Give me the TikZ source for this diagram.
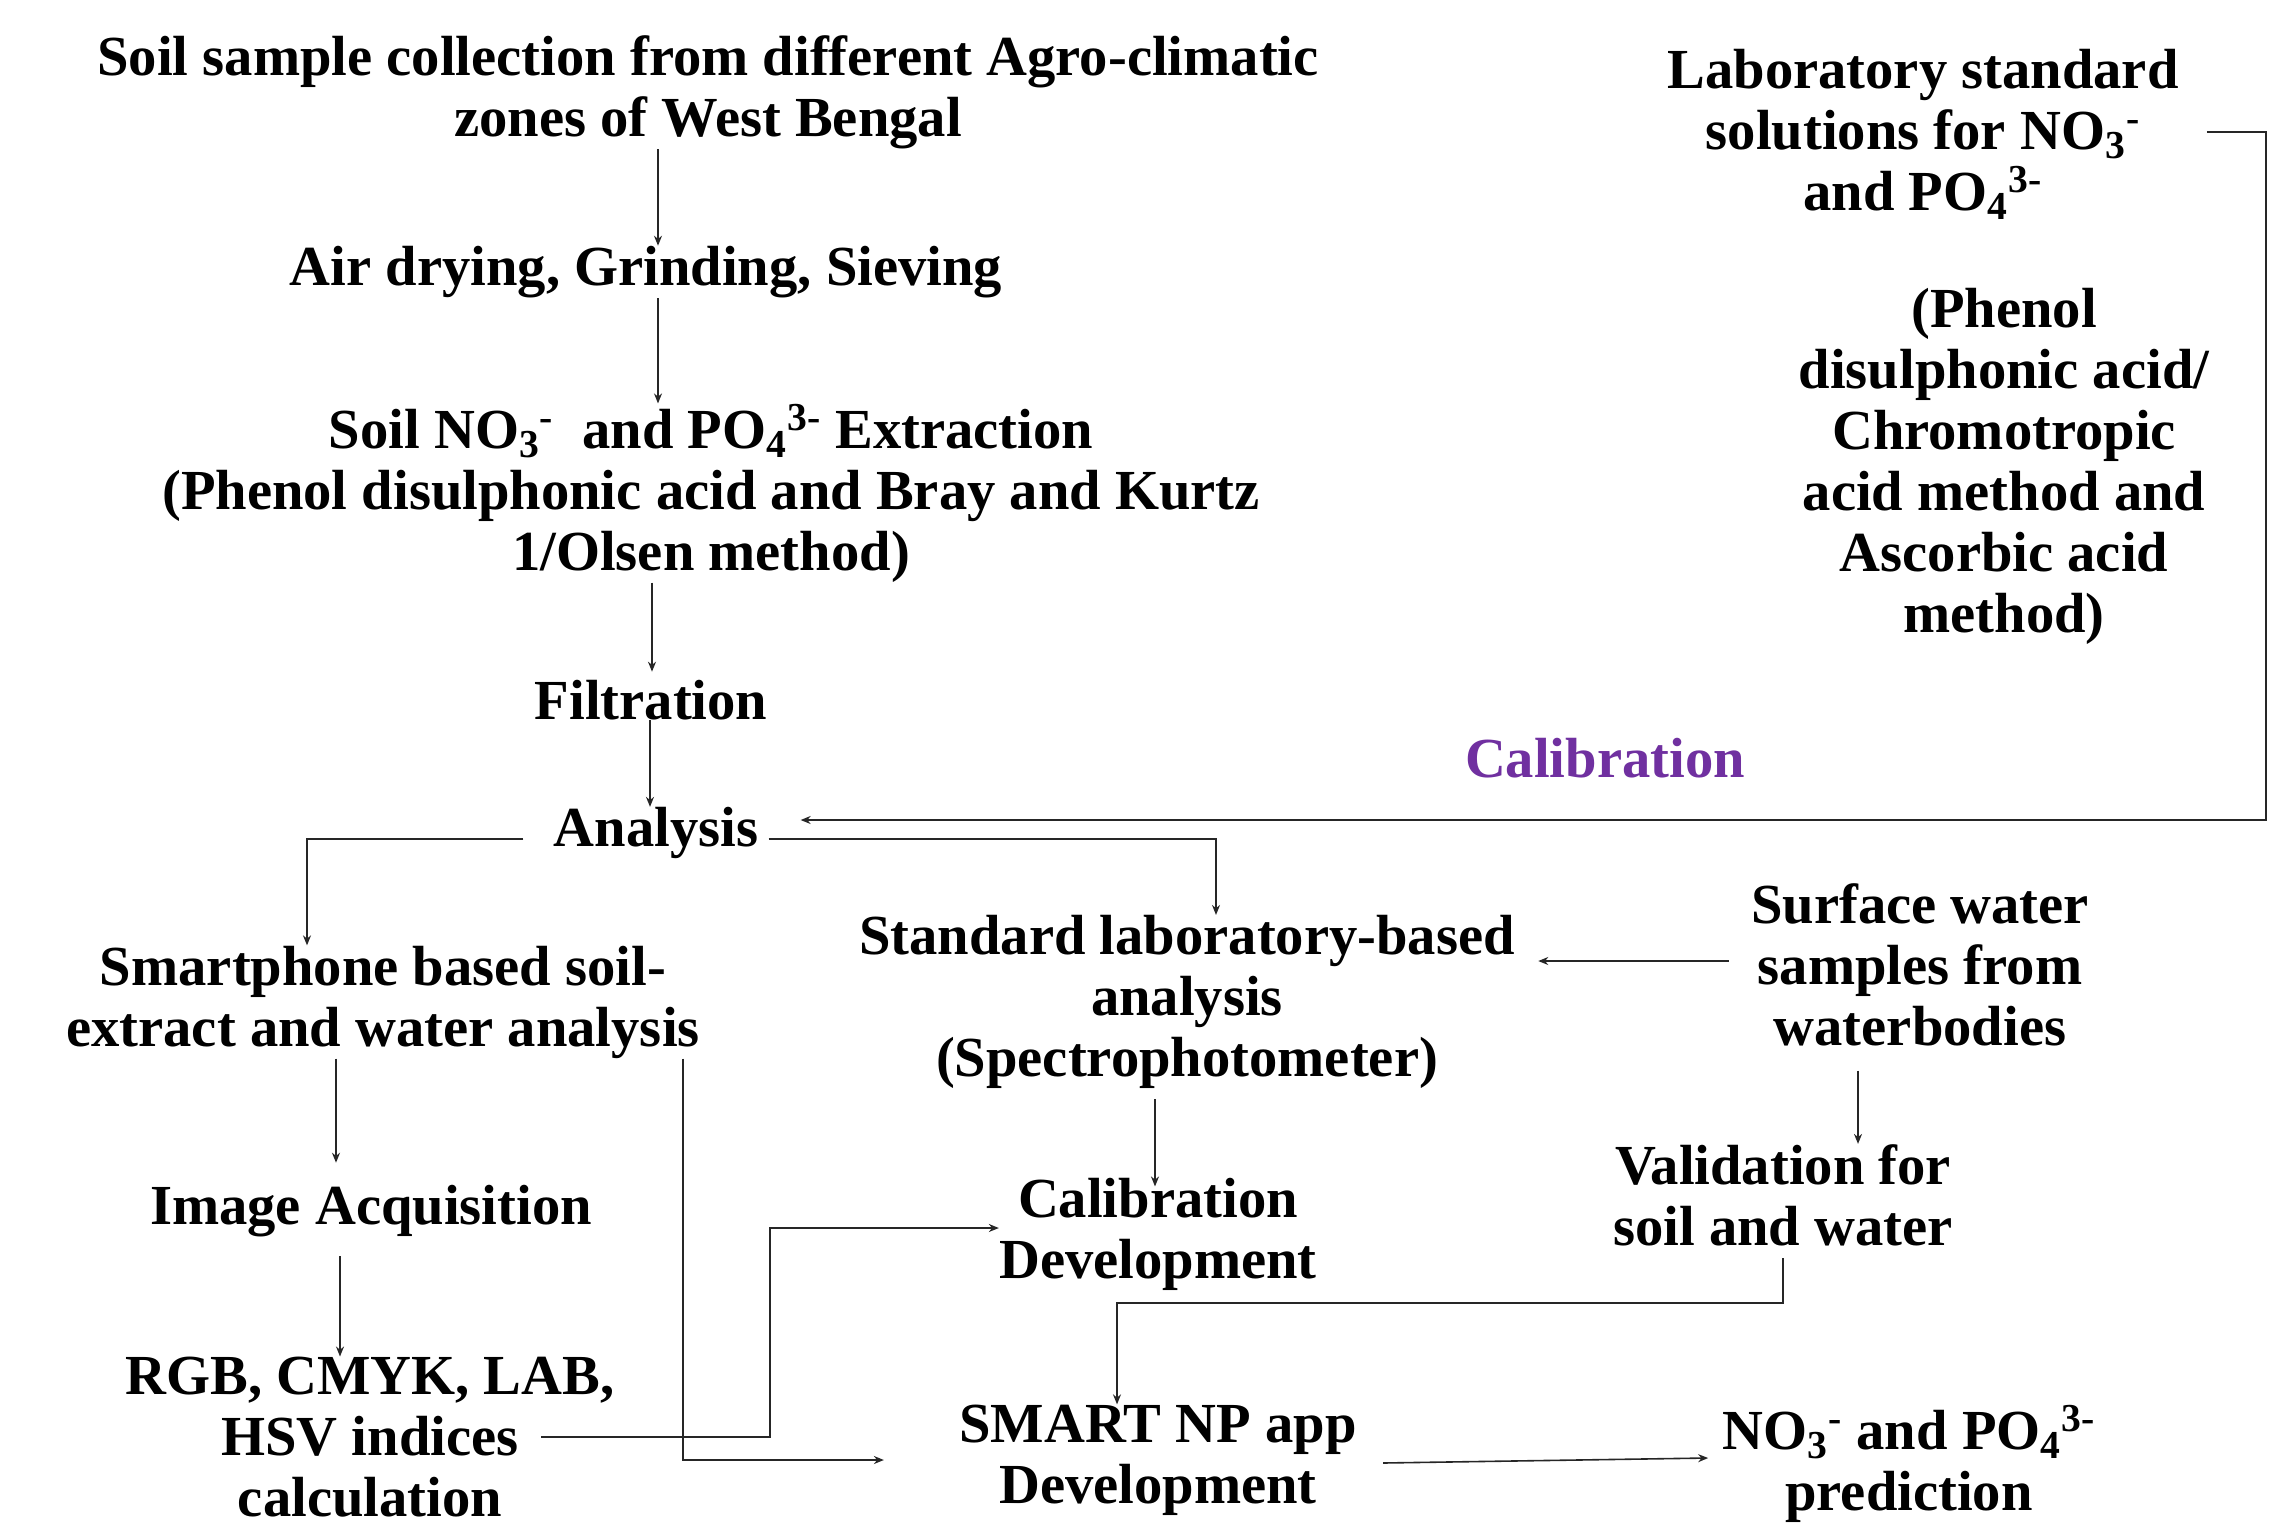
\documentclass[tikz,border=0pt]{standalone}
\usepackage{fontspec}
\setmainfont{Liberation Serif}
\usetikzlibrary{arrows.meta}
\definecolor{calpurple}{RGB}{112,48,160}
\begin{document}
\begin{tikzpicture}[x=0.5pt,y=-0.5pt,
  txt/.style={font=\fontsize{28.3}{30.5}\selectfont\bfseries, align=center, inner sep=0pt},
  conn/.style={draw=black!85, line width=0.8pt, -{Stealth[length=5pt,width=4pt]}}]
\useasboundingbox (0,0) rectangle (2269,1525);

\node[txt] (soil) at (708,92) {Soil sample collection from different Agro-climatic\\zones of West Bengal};
\node[txt] (air) at (646,272) {Air drying, Grinding, Sieving};
\node[txt] (ext) at (711,493) {Soil NO\textsubscript{3}\textsuperscript{-}\ \ and PO\textsubscript{4}\textsuperscript{3-} Extraction\\(Phenol disulphonic acid and Bray and Kurtz\\1/Olsen method)};
\node[txt] (filt) at (651,700) {Filtration};
\node[txt] (ana) at (656,833) {Analysis};
\node[txt] (lab) at (1923,134) {Laboratory standard\\solutions for NO\textsubscript{3}\textsuperscript{-}\\and PO\textsubscript{4}\textsuperscript{3-}};
\node[txt] (phen) at (2004,466) {(Phenol\\disulphonic acid/\\Chromotropic\\acid method and\\Ascorbic acid\\method)};
\node[txt, text=calpurple] (cal) at (1605,758) {Calibration};
\node[txt] (smart) at (383,1002) {Smartphone based soil-\\extract and water analysis};
\node[txt] (std) at (1187,1002) {Standard laboratory-based\\analysis\\(Spectrophotometer)};
\node[txt] (surf) at (1920,965) {Surface water\\samples from\\waterbodies};
\node[txt] (img) at (371,1211) {Image Acquisition};
\node[txt] (caldev) at (1158,1234) {Calibration\\Development};
\node[txt] (valid) at (1783,1195) {Validation for\\soil and water};
\node[txt] (rgb) at (370,1437) {RGB, CMYK, LAB,\\HSV indices\\calculation};
\node[txt] (app) at (1158,1460) {SMART NP app\\Development};
\node[txt] (pred) at (1909,1464) {NO\textsubscript{3}\textsuperscript{-} and PO\textsubscript{4}\textsuperscript{3-}\\prediction};

\coordinate (sw) at ([xshift=-11pt,yshift=2pt]surf.west);

% main chain
\draw[conn] ([xshift=-25pt]soil.south) -- ([xshift=6pt]air.north);
\draw[conn] ([xshift=6pt]air.south) -- ([xshift=-26.5pt]ext.north);
\draw[conn, shorten >=4pt] ([xshift=-29.5pt]ext.south) -- ([xshift=0.5pt]filt.north);
\draw[conn] ([xshift=-0.5pt]filt.south) -- ([xshift=-3pt]ana.north);

% calibration feedback
\draw[conn] ([xshift=14pt,yshift=1pt]lab.east) -- ++(59,0) |- ([xshift=21pt,yshift=6.5pt]ana.east);

% analysis branches
\draw[conn] ([xshift=-15pt,yshift=-3pt]ana.west) -| ([xshift=-38pt]smart.north);
\draw[conn] ([xshift=5pt,yshift=-3pt]ana.east) -| ([xshift=14.5pt]std.north);

% right side
\draw[conn, shorten >=11.5pt] (sw) -- (sw -| std.east);
\draw[conn, shorten <=5pt, shorten >=-4.5pt] ([xshift=-16pt]std.south) -- ([xshift=-1.5pt]caldev.north);
\draw[conn, shorten <=12pt] ([xshift=-31pt]surf.south) -- ([xshift=37.5pt]valid.north);
\draw[conn] ([yshift=-6pt]valid.south) -- ++(0,45) -| ([xshift=-20.5pt]app.north);

% left side
\draw[conn, shorten >=11pt] ([xshift=-23.5pt]smart.south) -- ([xshift=-17.5pt]img.north);
\draw[conn, shorten <=9.5pt] ([xshift=-15.5pt]img.south) -- ([xshift=-15pt]rgb.north);
\draw[conn] ([xshift=85.5pt]rgb.center) -- ++(229,0) |- ([yshift=3pt]caldev.west);
\draw[conn] ([xshift=150pt]smart.south) |- ([xshift=-37.5pt]app.west);

% prediction
\draw[conn] ([xshift=13pt,yshift=-1.5pt]app.east) -- ([xshift=-7pt,yshift=3pt]pred.west);
\end{tikzpicture}
\end{document}
